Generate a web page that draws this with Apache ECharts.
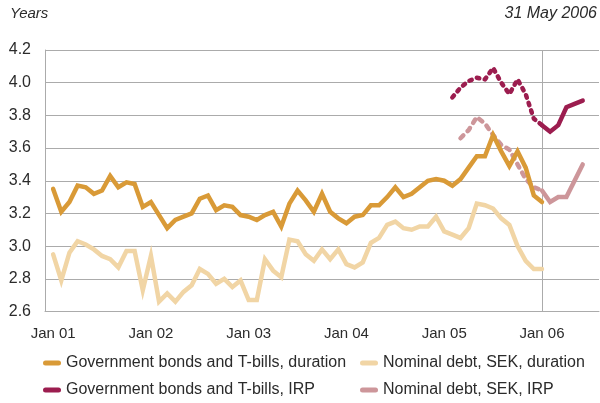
<!DOCTYPE html>
<html>
<head>
<meta charset="utf-8">
<script src="https://cdn.jsdelivr.net/npm/echarts@6/dist/echarts.min.js"></script>
<style>
  html, body { margin: 0; padding: 0; background: #fff; }
  #chart { width: 600px; height: 403px; }
</style>
</head>
<body>
<div id="chart"></div>
<script>
// Month labels on the time axis, Dec 00 through Aug 06
const monthNames = ['Jan','Feb','Mar','Apr','May','Jun','Jul','Aug','Sep','Oct','Nov','Dec'];
const categories = [];
for (let y = 2000; y <= 2006; y++) {
  for (let m = 0; m < 12; m++) {
    if (y === 2000 && m < 11) continue;
    if (y === 2006 && m > 7) continue;
    categories.push(monthNames[m] + ' ' + String(y % 100).padStart(2, '0'));
  }
}
const tickLabels = ['Jan 01', 'Jan 02', 'Jan 03', 'Jan 04', 'Jan 05', 'Jan 06'];
const yTicks = [2.6, 2.8, 3.0, 3.2, 3.4, 3.6, 3.8, 4.0, 4.2];

// Government bonds and T-bills, duration (years), Jan 01 - Jan 06
const govDurationStart = 'Jan 01';
const govDuration = [
  3.35, 3.21, 3.27, 3.37, 3.36, 3.32, 3.34, 3.43, 3.36, 3.39, 3.38, 3.24,
  3.27, 3.19, 3.11, 3.16, 3.18, 3.20, 3.29, 3.31, 3.22, 3.25, 3.24, 3.19,
  3.18, 3.16, 3.19, 3.21, 3.12, 3.26, 3.34, 3.28, 3.21, 3.32, 3.21, 3.17,
  3.14, 3.18, 3.19, 3.25, 3.25, 3.30, 3.36, 3.30, 3.32, 3.36, 3.40, 3.41,
  3.40, 3.37, 3.41, 3.48, 3.55, 3.55, 3.68, 3.58, 3.49, 3.58, 3.48, 3.31,
  3.27
];

// Nominal debt, SEK, duration (years), Jan 01 - Jan 06
const sekDurationStart = 'Jan 01';
const sekDuration = [
  2.95, 2.79, 2.96, 3.03, 3.01, 2.98, 2.94, 2.92, 2.87, 2.97, 2.97, 2.73,
  2.94, 2.66, 2.71, 2.66, 2.72, 2.76, 2.86, 2.83, 2.77, 2.80, 2.75, 2.79,
  2.67, 2.67, 2.92, 2.85, 2.81, 3.04, 3.03, 2.95, 2.91, 2.98, 2.92, 2.98,
  2.89, 2.87, 2.90, 3.02, 3.05, 3.13, 3.15, 3.11, 3.10, 3.12, 3.12, 3.18,
  3.09, 3.07, 3.05, 3.11, 3.26, 3.25, 3.23, 3.17, 3.13, 3.00, 2.91, 2.86,
  2.86
];

// Government bonds and T-bills, IRP, Feb 05 - Jun 06
const govIrpStart = 'Feb 05';
const govIrp = [3.91, 3.97, 4.01, 4.03, 4.02, 4.09, 4.00, 3.93, 4.02, 3.93, 3.78,
                3.74, 3.70, 3.74, 3.85, 3.87, 3.89];

// Nominal debt, SEK, IRP, Mar 05 - Jun 06
const sekIrpStart = 'Mar 05';
const sekIrp = [3.66, 3.71, 3.79, 3.75, 3.68, 3.62, 3.59, 3.50, 3.41, 3.36,
                3.34, 3.27, 3.30, 3.30, 3.40, 3.50];

// IRP is dashed up to this month and solid from it onwards
const irpSolidFrom = 'Jan 06';

const names = {
  govDur: 'Government bonds and T-bills, duration',
  sekDur: 'Nominal debt, SEK, duration',
  govIrp: 'Government bonds and T-bills, IRP',
  sekIrp: 'Nominal debt, SEK, IRP'
};
const colors = {
  govDur: '#d99a37',
  sekDur: '#f1d5a5',
  govIrp: '#9c1d4f',
  sekIrp: '#cd969a'
};

// Spread a value run onto the category axis; keep only [fromLabel, toLabel]
function place(values, startLabel, fromLabel, toLabel) {
  const out = categories.map(() => null);
  const s = categories.indexOf(startLabel);
  const lo = fromLabel ? categories.indexOf(fromLabel) : -Infinity;
  const hi = toLabel ? categories.indexOf(toLabel) : Infinity;
  values.forEach((v, i) => {
    const k = s + i;
    if (k >= lo && k <= hi) out[k] = v;
  });
  return out;
}

const FONT = '"Liberation Sans", Arial, sans-serif';
const TEXT = '#2b2b2b';
const GRIDC = '#ababab';

function lineSeries(name, color, data, extra) {
  return Object.assign({
    name: name,
    type: 'line',
    data: data,
    showSymbol: false,
    symbol: 'none',
    connectNulls: false,
    silent: true,
    color: color,
    lineStyle: { color: color, width: 4.5, cap: 'round', join: 'miter' },
    itemStyle: { color: color }
  }, extra || {});
}

const pill = 'path://M2.5,0H15.5A2.5,2.5,0,0,1,15.5,5H2.5A2.5,2.5,0,0,1,2.5,0Z';
const legendBase = {
  orient: 'vertical',
  top: 355,
  padding: 0,
  itemWidth: 18,
  itemHeight: 5,
  itemGap: 11,
  icon: pill,
  selectedMode: false,
  textStyle: { fontFamily: FONT, fontSize: 16, color: TEXT, lineHeight: 16 }
};

const chart = echarts.init(document.getElementById('chart'), null, { renderer: 'canvas' });
chart.setOption({
  animation: false,
  backgroundColor: '#fff',
  grid: { left: 45, right: 1, top: 50, bottom: 91.5, containLabel: false },
  graphic: [
    { type: 'text', left: 10, top: 6,
      style: { text: 'Years', font: 'italic 15px ' + FONT, fill: TEXT } },
    { type: 'text', right: 3, top: 6,
      style: { text: '31 May 2006', font: 'italic 16px ' + FONT, fill: TEXT } }
  ],
  legend: [
    Object.assign({}, legendBase, { left: 43, data: [names.govDur, names.govIrp] }),
    Object.assign({}, legendBase, { left: 360, data: [names.sekDur, names.sekIrp] })
  ],
  xAxis: {
    type: 'category',
    data: categories,
    boundaryGap: false,
    axisLine: { show: true, lineStyle: { color: GRIDC, width: 1 } },
    axisTick: { show: false },
    axisLabel: {
      interval: (i, v) => tickLabels.indexOf(v) >= 0,
      fontFamily: FONT, fontSize: 15, color: TEXT, margin: 15
    },
    splitLine: {
      show: true,
      interval: (i, v) => v === irpSolidFrom,
      lineStyle: { color: GRIDC, width: 1 }
    }
  },
  yAxis: {
    type: 'value',
    min: yTicks[0],
    max: yTicks[yTicks.length - 1],
    interval: 0.2,
    axisLine: { show: true, lineStyle: { color: GRIDC, width: 1 } },
    axisTick: { show: false },
    axisLabel: {
      formatter: v => v.toFixed(1),
      fontFamily: FONT, fontSize: 16, color: TEXT, margin: 14
    },
    splitLine: { show: true, lineStyle: { color: GRIDC, width: 1 } }
  },
  series: [
    lineSeries(names.sekIrp, colors.sekIrp, place(sekIrp, sekIrpStart, irpSolidFrom, null), { z: 2 }),
    lineSeries(names.sekIrp, colors.sekIrp, place(sekIrp, sekIrpStart, null, irpSolidFrom), {
      z: 2,
      lineStyle: { color: colors.sekIrp, width: 4.5, cap: 'round', join: 'round', type: [4, 6] }
    }),
    lineSeries(names.govIrp, colors.govIrp, place(govIrp, govIrpStart, irpSolidFrom, null), { z: 2 }),
    lineSeries(names.govIrp, colors.govIrp, place(govIrp, govIrpStart, null, irpSolidFrom), {
      z: 2,
      lineStyle: { color: colors.govIrp, width: 4.5, cap: 'round', join: 'round', type: [2.5, 5.5] }
    }),
    lineSeries(names.sekDur, colors.sekDur, place(sekDuration, sekDurationStart), { z: 3 }),
    lineSeries(names.govDur, colors.govDur, place(govDuration, govDurationStart), { z: 4 })
  ]
});
</script>
</body>
</html>
